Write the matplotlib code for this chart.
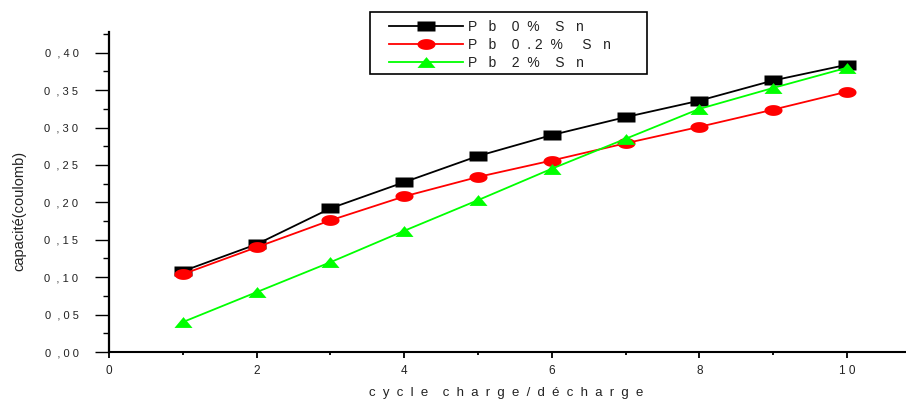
import numpy as np
import matplotlib
matplotlib.use("Agg")
import matplotlib.pyplot as plt
from matplotlib.path import Path
from matplotlib.patches import Rectangle
from matplotlib.ticker import MultipleLocator, FixedLocator

plt.rcParams['font.family'] = ['Liberation Sans', 'DejaVu Sans']

cycles = [1, 2, 3, 4, 5, 6, 7, 8, 9, 10]
pb_0 = [0.108, 0.144, 0.192, 0.227, 0.262, 0.290, 0.314, 0.336, 0.363, 0.384]
pb_02 = [0.104, 0.140, 0.176, 0.208, 0.234, 0.256, 0.279, 0.301, 0.324, 0.348]
pb_2 = [0.040, 0.080, 0.120, 0.162, 0.203, 0.245, 0.285, 0.325, 0.353, 0.380]

labels = ["P   b    0  %    S   n",
          "P   b    0  . 2  %     S   n",
          "P   b    2  %    S   n"]
x_ticks = [0, 2, 4, 6, 8, 10]
x_tick_labels = ["0", "2", "4", "6", "8", "1 0"]
y_ticks = [0.00, 0.05, 0.10, 0.15, 0.20, 0.25, 0.30, 0.35, 0.40]
y_tick_labels = ["0  , 0 0", "0  , 0 5", "0  , 1 0", "0  , 1 5", "0  , 2 0",
                 "0  , 2 5", "0  , 3 0", "0  , 3 5", "0  , 4 0"]
x_title = "c  y  c  l  e    c  h  a  r  g  e  /  d  é  c  h  a  r  g  e"
y_title = "capacité(coulomb)"

W, H = 906, 400

# wide markers: flat rectangle, ellipse and triangle
rect = Path([(-1, -0.55), (1, -0.55), (1, 0.55), (-1, 0.55), (-1, -0.55)],
            [Path.MOVETO, Path.LINETO, Path.LINETO, Path.LINETO, Path.CLOSEPOLY])
t = np.linspace(0, 2 * np.pi, 60)
ell = Path(np.column_stack([np.cos(t), 0.6 * np.sin(t)]))
tri = Path([(-1, -0.6), (1, -0.6), (0, 0.6), (-1, -0.6)],
           [Path.MOVETO, Path.LINETO, Path.LINETO, Path.CLOSEPOLY])

fig = plt.figure(figsize=(W / 100, H / 100), dpi=100)
ax = fig.add_axes([109 / W, 1 - 352 / H, 1 - 109 / W, 320 / H])

ms = 13
ax.plot(cycles, pb_0, color='black', lw=1.3, marker=rect, ms=ms,
        mfc='black', mec='none', label=labels[0], zorder=3)
ax.plot(cycles, pb_02, color='#ff0000', lw=1.3, marker=ell, ms=ms,
        mfc='#ff0000', mec='none', label=labels[1], zorder=3)
ax.plot(cycles, pb_2, color='#00ff00', lw=1.3, marker=tri, ms=ms,
        mfc='#00ff00', mec='none', label=labels[2], zorder=4)

ax.set_xlim(0, 10.8)
ax.set_ylim(0, 0.4278)

for s in ['top', 'right']:
    ax.spines[s].set_visible(False)
ax.spines['left'].set_linewidth(1.6)
ax.spines['bottom'].set_linewidth(1.5)

ax.xaxis.set_major_locator(FixedLocator(x_ticks))
ax.set_xticklabels(x_tick_labels)
ax.xaxis.set_minor_locator(MultipleLocator(1))
ax.yaxis.set_major_locator(FixedLocator(y_ticks))
ax.set_yticklabels(y_tick_labels)
ax.yaxis.set_minor_locator(MultipleLocator(0.025))

ax.tick_params(axis='y', which='major', direction='out', length=10, width=1,
               labelsize=8, pad=12, labelcolor='#222222')
ax.tick_params(axis='y', which='minor', direction='out', length=4, width=1)
ax.tick_params(axis='x', which='major', direction='out', length=4.5, width=1.3,
               labelsize=8.5, pad=5, labelcolor='#222222')
ax.tick_params(axis='x', which='minor', direction='out', length=2.5, width=1.3)

fig.text(369 / W, 1 - 396 / H, x_title, fontsize=9.5, ha='left',
         va='baseline', color='#222222')
fig.text(19 / W, 1 - 211 / H, y_title, fontsize=10.5, rotation=90,
         ha='center', va='center', color='#222222')

# legend box and entries
fig.patches.append(Rectangle((370 / W, 1 - 74 / H), 277 / W, 62 / H,
                             transform=fig.transFigure, fill=False,
                             edgecolor='black', lw=1.2, zorder=5))
leg = ax.legend(loc='upper left', bbox_to_anchor=(389 / W, 1 - 20 / H),
                bbox_transform=fig.transFigure, fontsize=10, frameon=False,
                handlelength=5.3, handletextpad=0.4, labelspacing=0.3,
                borderpad=0, borderaxespad=0, markerscale=1.0)
for txt in leg.get_texts():
    txt.set_color('#222222')

fig.savefig("out.png", dpi=100)
